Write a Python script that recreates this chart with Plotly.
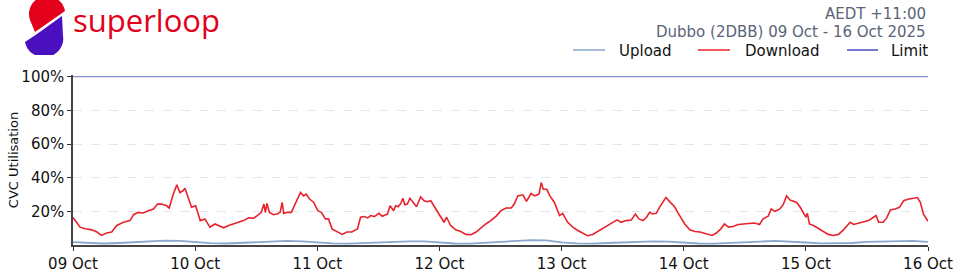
import base64
import pandas as pd
import plotly.graph_objects as go

# ---------------- data ----------------
start = pd.Timestamp("2025-10-09 00:00")
tick_days = ["2025-10-09", "2025-10-10", "2025-10-11", "2025-10-12",
             "2025-10-13", "2025-10-14", "2025-10-15", "2025-10-16"]
y_ticks = [20, 40, 60, 80, 100]
y_tick_labels = ["20%", "40%", "60%", "80%", "100%"]

download_hours = [
    0, 1.4, 2.4, 3.7, 4.7, 5.6, 6.6, 7.6, 8.6, 9.9, 11.2, 11.9, 12.8, 13.8, 14.8, 15.8,
    16.6, 17.4, 18.4, 18.9, 19.7, 20.4, 21.0, 21.6, 22.0, 22.7, 23.3, 24.1, 25.0, 25.9,
    26.9, 27.9, 28.6, 29.6, 30.6, 31.6, 32.6, 33.5, 34.5, 35.5, 36.2, 37.0, 37.5, 37.8,
    38.1, 38.6, 39.4, 40.1, 40.7, 41.1, 41.4, 42.1, 42.9, 43.7, 44.7, 45.3, 45.8, 46.5,
    47.3, 48.1, 48.8, 49.6, 50.2, 50.9, 51.9, 52.9, 53.8, 54.8, 55.5, 55.9, 56.5, 57.2,
    57.9, 58.5, 59.2, 60.1, 60.8, 61.8, 62.3, 63.0, 63.4, 63.9, 64.4, 64.8, 65.2, 65.7,
    66.2, 66.9, 67.5, 68.3, 69.0, 69.6, 70.3, 70.9, 71.9, 72.9, 73.4, 74.2, 75.2, 76.2,
    77.2, 78.2, 79.2, 80.1, 81.1, 82.1, 83.1, 84.1, 85.1, 86.1, 86.7, 87.4, 88.4, 89.1,
    90.0, 90.7, 91.3, 91.6, 92.0, 92.4, 93.1, 93.7, 94.6, 95.6, 96.2, 97.2, 98.2, 99.2,
    100.2, 101.1, 102.1, 103.1, 104.1, 105.1, 106.1, 106.9, 107.7, 108.7, 109.7, 110.5,
    111.2, 112.0, 112.7, 113.3, 113.9, 114.6, 115.3, 115.9, 116.5, 117.2, 118.2, 119.2,
    120.2, 121.2, 122.2, 123.2, 124.1, 125.1, 125.6, 126.4, 127.3, 128.0, 128.8, 129.7,
    130.7, 131.7, 132.6, 133.9, 134.9, 135.6, 136.6, 137.2, 137.9, 138.9, 139.6, 140.2,
    140.9, 141.6, 142.2, 142.9, 143.5, 144.0, 144.3, 144.7, 145.5, 146.5, 147.4, 148.4,
    149.4, 150.4, 151.4, 152.4, 152.7, 153.4, 154.3, 155.3, 156.3, 157.3, 157.8, 158.3,
    159.2, 159.9, 160.6, 161.5, 162.4, 163.2, 164.2, 165.2, 165.9, 166.5, 167.1, 168.0,
]
download_values = [
    16.3, 10.6, 9.6, 9.0, 7.7, 5.7, 7.1, 7.7, 11.6, 13.5, 14.5, 18.0, 19.4, 19.0, 20.4, 21.4,
    24.3, 24.3, 23.3, 22.0, 30.2, 35.7, 31.2, 32.2, 33.7, 28.2, 22.4, 23.3, 14.5, 15.5,
    10.6, 12.5, 11.6, 10.2, 11.6, 12.5, 13.5, 14.5, 16.1, 15.9, 17.5, 19.4, 24.3, 19.4,
    24.7, 19.4, 18.0, 18.4, 19.4, 25.3, 18.8, 19.4, 19.4, 24.3, 31.2, 29.2, 30.2, 27.3,
    25.3, 20.4, 19.4, 15.5, 15.5, 9.6, 7.7, 6.3, 7.7, 7.7, 9.0, 9.6, 16.5, 16.9,
    16.1, 17.5, 16.9, 18.8, 17.1, 18.4, 23.3, 20.4, 23.3, 22.7, 24.7, 27.8, 23.9, 24.3,
    27.8, 25.3, 22.7, 28.6, 26.3, 25.7, 26.3, 23.3, 18.8, 13.5, 16.5, 11.6, 9.0, 8.0,
    6.3, 6.1, 7.7, 10.2, 12.5, 14.5, 17.0, 20.4, 22.0, 22.0, 24.3, 29.2, 29.8, 25.9,
    30.6, 29.2, 29.8, 30.6, 37.1, 33.1, 33.1, 29.2, 25.3, 17.5, 18.8, 13.5, 10.6, 8.6,
    6.7, 5.5, 6.3, 8.0, 10.2, 11.6, 13.5, 14.9, 13.5, 14.5, 14.9, 18.4,
    15.5, 14.5, 16.5, 19.4, 18.4, 18.8, 22.7, 25.3, 28.2, 25.9, 22.7, 17.5,
    12.5, 9.0, 8.0, 7.7, 7.1, 6.3, 5.7, 7.1, 9.6, 12.5, 10.6, 11.0,
    12.2, 12.5, 12.9, 13.1, 12.2, 15.5, 17.1, 21.4, 20.0, 21.4, 24.3, 29.2,
    26.7, 25.9, 25.3, 22.4, 19.4, 16.5, 18.8, 12.5, 11.6, 9.6, 8.2, 6.3,
    5.7, 6.3, 9.0, 12.5, 13.5, 12.2, 12.9, 13.5, 14.5, 16.5, 17.5, 13.5,
    13.5, 16.1, 20.8, 21.4, 22.4, 26.3, 27.3, 27.8, 28.2, 25.3, 18.4, 14.1,
]

upload_hours = [h * 3 for h in range(57)]
upload_values = [
    1.7, 1.2, 0.9, 1.2, 1.8, 2.1, 2.6, 2.4,
    1.6, 1.1, 0.9, 1.3, 1.8, 2.0, 2.4, 2.2,
    1.5, 1.0, 0.8, 1.2, 1.7, 2.0, 2.2, 2.1,
    1.4, 0.9, 0.8, 1.3, 1.9, 2.4, 2.9, 2.7,
    1.6, 1.0, 0.8, 1.2, 1.6, 1.8, 2.1, 2.0,
    1.4, 0.9, 0.8, 1.1, 1.7, 2.0, 2.5, 2.2,
    1.5, 1.0, 0.9, 1.2, 1.8, 2.1, 2.5, 2.4,
    1.9,
]

limit_hours = [0, 168]
limit_values = [100, 100]

# ---------------- styling ----------------
FONT = "DejaVu Sans"
C_UP = "#88a7cc"
C_DOWN = "#e8232b"
C_LIMIT = "#8890d8"
C_LIMIT_LEG = "#4a4ac0"
C_SUB = "#5a6478"

W, H = 960, 274
ML, MR, MT, MB = 73, 32, 75, 29
PW, PH = W - ML - MR, H - MT - MB


def px(xp):
    return (xp - ML) / PW


def py(yp):
    return (H - MB - yp) / PH


def to_time(hours):
    return [start + pd.Timedelta(hours=h) for h in hours]


fig = go.Figure()
fig.add_trace(go.Scatter(x=to_time(upload_hours), y=upload_values, mode="lines",
                         name="Upload", line=dict(color=C_UP, width=1.8)))
fig.add_trace(go.Scatter(x=to_time(download_hours), y=download_values, mode="lines",
                         name="Download", line=dict(color=C_DOWN, width=1.6)))
fig.add_trace(go.Scatter(x=to_time(limit_hours), y=limit_values, mode="lines",
                         name="Limit", line=dict(color=C_LIMIT, width=1.3)))

fig.update_layout(
    width=W, height=H,
    margin=dict(l=ML, r=MR, t=MT, b=MB, pad=0, autoexpand=False),
    paper_bgcolor="white", plot_bgcolor="white",
    showlegend=False,
    font=dict(family=FONT, size=15, color="#111111"),
)
fig.update_xaxes(
    type="date", range=[tick_days[0], tick_days[-1]],
    tickvals=tick_days, tickformat="%d %b",
    ticks="outside", ticklen=4, tickwidth=1, tickcolor="#333333",
    showline=True, linecolor="#444444", linewidth=1.5,
    showgrid=False, zeroline=False, automargin=False,
    tickfont=dict(family=FONT, size=15, color="#111111"),
)
fig.update_yaxes(
    range=[0, 101], tickmode="array", tickvals=y_ticks, ticktext=y_tick_labels,
    ticks="outside", ticklen=4, tickwidth=1, tickcolor="#333333",
    showline=True, linecolor="#444444", linewidth=1.5,
    showgrid=True, gridcolor="#e2e6ee", griddash="dash", gridwidth=1,
    zeroline=False, automargin=False,
    tickfont=dict(family=FONT, size=15, color="#111111"),
    title=dict(text="CVC Utilisation", font=dict(family=FONT, size=13, color="#111111"), standoff=0),
)

# ---- header text ----
ann = []
ann.append(dict(text="AEDT +11:00", x=px(928), y=py(14), xref="paper", yref="paper",
                xanchor="right", yanchor="middle", showarrow=False,
                font=dict(family=FONT, size=15, color=C_SUB)))
ann.append(dict(text="Dubbo (2DBB) 09 Oct - 16 Oct 2025", x=px(928), y=py(32), xref="paper", yref="paper",
                xanchor="right", yanchor="middle", showarrow=False,
                font=dict(family=FONT, size=15, color=C_SUB)))
ann.append(dict(text="superloop", x=px(71), y=py(20), xref="paper", yref="paper",
                xanchor="left", yanchor="middle", showarrow=False,
                font=dict(family="Open Sans", size=31, color="#e3001b")))

# ---- manual legend ----
legend_items = [("Upload", C_UP, 573, 605, 617),
                ("Download", C_DOWN, 698, 730, 743),
                ("Limit", C_LIMIT_LEG, 847, 878, 889)]
shapes = []
for name, col, x0, x1, xt in legend_items:
    shapes.append(dict(type="line", xref="paper", yref="paper",
                       x0=px(x0), x1=px(x1), y0=py(50), y1=py(50),
                       line=dict(color=col, width=1.5)))
    ann.append(dict(text=name, x=px(xt), y=py(51), xref="paper", yref="paper",
                    xanchor="left", yanchor="middle", showarrow=False,
                    font=dict(family=FONT, size=15, color="#111111")))

fig.update_layout(annotations=ann, shapes=shapes)

# ---- logo icon ----
svg = ('<svg xmlns="http://www.w3.org/2000/svg" width="55" height="60" viewBox="20 -5 55 60">'
       '<path d="M47,-4 A18,18 0 0 0 30,20 L35,32 L65,11 A18,18 0 0 0 47,-4 Z" fill="#e3001b"/>'
       '<path d="M62,16 L63,36 A19,18 0 0 1 25,42 L37,34 Z" fill="#4a0fbf"/>'
       '</svg>')
src = "data:image/svg+xml;base64," + base64.b64encode(svg.encode()).decode()
fig.add_layout_image(dict(source=src, xref="paper", yref="paper",
                          x=px(20), y=py(-5), sizex=55 / PW, sizey=60 / PH,
                          xanchor="left", yanchor="top", sizing="stretch", layer="above"))

fig.write_html("out.html", config={"displayModeBar": False})
